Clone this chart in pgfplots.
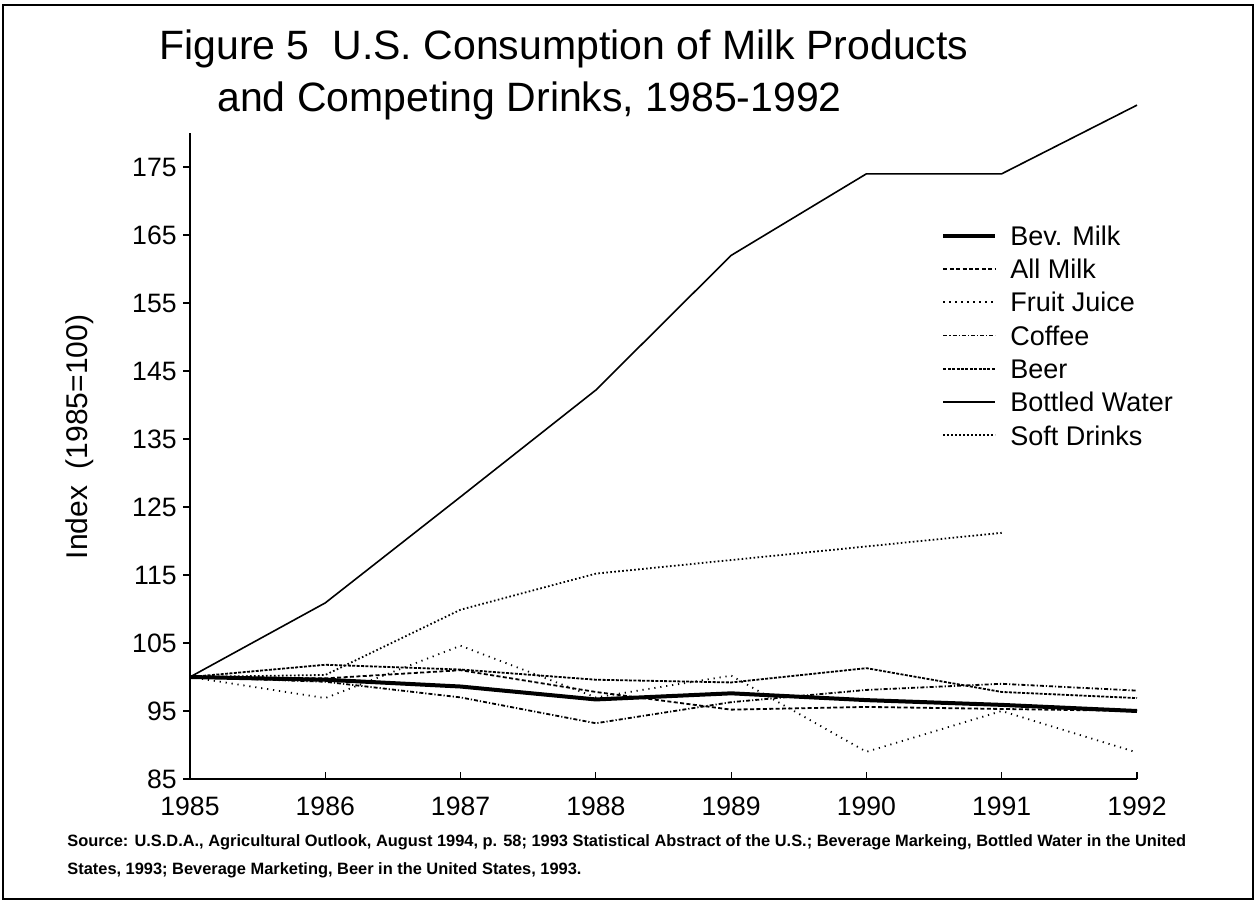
\documentclass[border=0pt]{standalone}
\usepackage{pgfplots}
\pgfplotsset{compat=1.18}
\usepackage{fontspec}
\setmainfont{Liberation Sans}
\begin{document}
\begin{tikzpicture}
\useasboundingbox (0pt,0pt) rectangle (628.5pt,-451.5pt);
\draw[line width=1.2pt] (1.5pt,-2.5pt) rectangle (626.5pt,-449.5pt);
\node[anchor=base west, inner sep=0pt, font=\fontsize{20.5}{24}\selectfont] at (79.5pt,-30pt) {Figure 5\ \ U.S. Consumption of Milk Products};
\node[anchor=base west, inner sep=0pt, font=\fontsize{20.5}{24}\selectfont] at (108.5pt,-56pt) {and Competing Drinks, 1985-1992};
\node[rotate=90, inner sep=0pt, font=\fontsize{15}{18}\selectfont] at (40pt,-218.5pt) {Index\ \ (1985=100)};
\node[anchor=base west, inner sep=0pt, font=\bfseries\fontsize{8.2}{9}\selectfont] at (33.5pt,-423pt) {Source: U.S.D.A., Agricultural Outlook, August 1994, p. 58; 1993 Statistical Abstract of the U.S.; Beverage Markeing, Bottled Water in the United};
\node[anchor=base west, inner sep=0pt, font=\bfseries\fontsize{8.2}{9}\selectfont] at (33.5pt,-437pt) {States, 1993; Beverage Marketing, Beer in the United States, 1993.};
\begin{axis}[
  at={(95pt,-389.5pt)}, anchor=south west,
  scale only axis, width=473.5pt, height=323pt,
  xmin=1985, xmax=1992, ymin=85, ymax=180,
  axis x line=bottom, axis y line=left,
  axis line style={-, line width=0.6pt},
  tick align=inside, major tick length=3.5pt,
  tick style={line width=0.6pt, black},
  ytick style={xshift=-3.5pt},
  xtick={1985,1986,...,1992}, ytick={85,95,...,175},
  /pgf/number format/assume math mode=true,
  xticklabel style={font=\fontsize{13.3}{16}\selectfont, inner sep=0pt, yshift=-9pt, /pgf/number format/1000 sep={}},
  yticklabel style={font=\fontsize{13.3}{16}\selectfont, inner sep=0pt, xshift=-6.5pt},
  clip=false,
  legend image code/.code={\draw[#1] (0pt,0pt) -- (26pt,0pt);},
  legend cell align=left,
  legend style={draw=none, fill=none, at={(0.793,0.860)}, anchor=north west,
    inner sep=0pt, row sep=4.95pt, column sep=5.5pt,
    font=\fontsize{13.5}{16}\selectfont,
    nodes={inner sep=1pt, text height=9.7pt, text depth=0pt}},
]
\addplot[black, line width=2pt] coordinates {(1985,100) (1986,99.6) (1987,98.6) (1988,96.7) (1989,97.6) (1990,96.6) (1991,95.9) (1992,95.0)};
\addlegendentry{Bev. Milk}
\addplot[black, line width=0.9pt, dash pattern=on 2pt off 1.2pt] coordinates {(1985,100) (1986,99.8) (1987,101.0) (1988,97.8) (1989,95.2) (1990,95.6) (1991,95.3) (1992,95.0)};
\addlegendentry{All Milk}
\addplot[black, line width=0.9pt, dash pattern=on 0.6pt off 2.4pt] coordinates {(1985,100) (1986,96.9) (1987,104.6) (1988,97.0) (1989,100.2) (1990,89.0) (1991,95.0) (1992,88.9)};
\addlegendentry{Fruit Juice}
\addplot[black, line width=0.9pt, dash pattern=on 2pt off 1pt on 0.6pt off 1pt] coordinates {(1985,100) (1986,99.3) (1987,97.0) (1988,93.2) (1989,96.3) (1990,98.1) (1991,99.0) (1992,98.0)};
\addlegendentry{Coffee}
\addplot[black, line width=0.9pt, dash pattern=on 1.5pt off 0.7pt] coordinates {(1985,100) (1986,101.8) (1987,101.1) (1988,99.6) (1989,99.2) (1990,101.3) (1991,97.8) (1992,96.9)};
\addlegendentry{Beer}
\addplot[black, line width=0.8pt] coordinates {(1985,100) (1986,110.9) (1987,126.5) (1988,142.2) (1989,162.0) (1990,174.0) (1991,174.0) (1992,184.1)};
\addlegendentry{Bottled Water}
\addplot[black, line width=0.9pt, dash pattern=on 0.8pt off 1.2pt] coordinates {(1985,100) (1986,100.3) (1987,109.9) (1988,115.2) (1989,117.2) (1990,119.2) (1991,121.2)};
\addlegendentry{Soft Drinks}
\end{axis}
\end{tikzpicture}
\end{document}
